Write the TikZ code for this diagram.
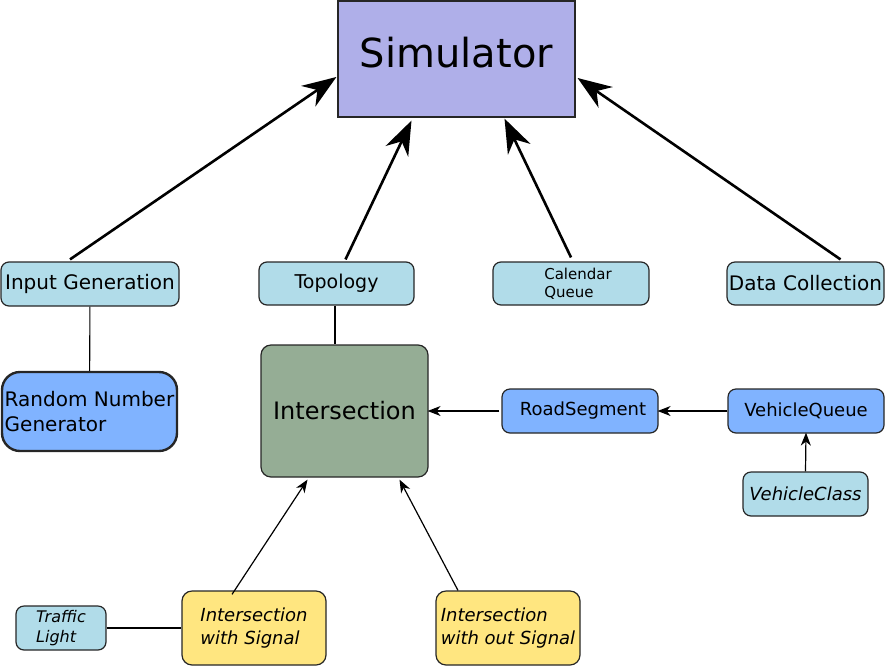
\documentclass[tikz,border=0pt]{standalone}
\usepackage{fontspec}
\setmainfont{DejaVu Sans}
\usetikzlibrary{arrows.meta}

\definecolor{simfill}{HTML}{AFAFE9}
\definecolor{lightbox}{HTML}{B1DCE9}
\definecolor{bluebox}{HTML}{80B3FF}
\definecolor{greenbox}{HTML}{95AD95}
\definecolor{yellowbox}{HTML}{FFE680}

\begin{document}
\begin{tikzpicture}[
    x=1pt, y=-1pt,
    box/.style={draw=black!85, line width=1.2pt, rounded corners=8pt, inner sep=0pt, align=left},
    lightnode/.style={box, fill=lightbox},
    bluenode/.style={box, fill=bluebox},
    yellownode/.style={box, fill=yellowbox, rounded corners=10pt, font=\itshape\fontsize{18}{23}\selectfont},
    bigarrow/.style={line width=2.6pt, -{Stealth[length=34pt, width=25pt, inset=11pt]}},
    smallarrow/.style={line width=1.2pt, -{Stealth[length=13pt, width=10pt, inset=4pt]}},
    plainline/.style={line width=1.1pt}
    ]

    \useasboundingbox (0,0) rectangle (885,667);

    \node [box, fill=simfill, rounded corners=0pt, minimum width=237pt, minimum height=116pt,
           font=\fontsize{40}{48}\selectfont] (sim) at (456.5,59) {\raisebox{13pt}{Simulator}};

    \node [lightnode, minimum width=178pt, minimum height=44pt, font=\fontsize{20}{24}\selectfont] (ig) at (90,284) {Input Generation};
    \node [lightnode, minimum width=155pt, minimum height=43pt, font=\fontsize{19}{22}\selectfont] (topo) at (336.5,283.5) {Topology};
    \node [lightnode, minimum width=156pt, minimum height=43pt, font=\fontsize{15}{18}\selectfont] (cq) at (571,283.5)
          {\hspace*{14pt}Calendar\\\hspace*{14pt}Queue};
    \node [lightnode, minimum width=157pt, minimum height=43pt, font=\fontsize{20}{24}\selectfont] (dc) at (805.5,283.5) {Data Collection};

    \node [bluenode, line width=2.4pt, rounded corners=18pt, minimum width=175pt, minimum height=79pt,
           font=\fontsize{20}{25}\selectfont] (rng) at (89.5,411.5) {Random Number\\Generator};
    \node [box, fill=greenbox, rounded corners=10pt, minimum width=167pt, minimum height=132pt,
           font=\fontsize{24}{28}\selectfont] (inter) at (344.5,411) {Intersection};
    \node [bluenode, minimum width=156pt, minimum height=44pt, font=\fontsize{18}{22}\selectfont] (rs) at (580,411) {\hspace*{6pt}RoadSegment};
    \node [bluenode, minimum width=156pt, minimum height=44pt, font=\fontsize{18}{22}\selectfont] (vq) at (806,411) {VehicleQueue};
    \node [lightnode, minimum width=125pt, minimum height=44pt, font=\itshape\fontsize{18}{20}\selectfont] (vc) at (805.5,494) {VehicleClass};

    \node [lightnode, minimum width=90pt, minimum height=44pt, font=\itshape\fontsize{16}{20}\selectfont] (tl) at (61,628) {Traffic\\Light};
    \node [yellownode, minimum width=144pt, minimum height=74pt] (iws) at (254,628) {Intersection\\with Signal};
    \node [yellownode, minimum width=144pt, minimum height=74pt] (iwos) at (508,628) {Intersection\\with out Signal};

    % towards the simulator
    \draw [bigarrow] ([xshift=-20pt,yshift=2pt]ig.north) -- ([xshift=-1pt,yshift=-18pt]sim.west);
    \draw [bigarrow] ([xshift=9pt,yshift=2pt]topo.north) -- ([xshift=-45pt,yshift=-3pt]sim.south);
    \draw [bigarrow] ([yshift=4pt]cq.north) -- ([xshift=48pt,yshift=-1pt]sim.south);
    \draw [bigarrow] ([xshift=35pt,yshift=2pt]dc.north) -- ([xshift=2pt,yshift=-19pt]sim.east);

    % plain links
    \draw [plainline] (ig) -- (rng);
    \draw [plainline] ([xshift=-1.5pt]topo.south) -- ([xshift=-9.5pt]inter.north);
    \draw [plainline] (tl) -- (iws);

    % into the intersection
    \draw [smallarrow] ([xshift=-2pt]rs.west) -- ([xshift=-1pt]inter.east);
    \draw [smallarrow] (vq.west) -- ([xshift=-1pt]rs.east);
    \draw [smallarrow] (vc.north) -- ([yshift=1pt]vq.south);
    \draw [smallarrow] ([xshift=-22pt,yshift=-4pt]iws.north) -- ([xshift=-37pt,yshift=-2pt]inter.south);
    \draw [smallarrow] ([xshift=-50pt]iwos.north) -- ([xshift=55pt,yshift=-2pt]inter.south);

\end{tikzpicture}
\end{document}
